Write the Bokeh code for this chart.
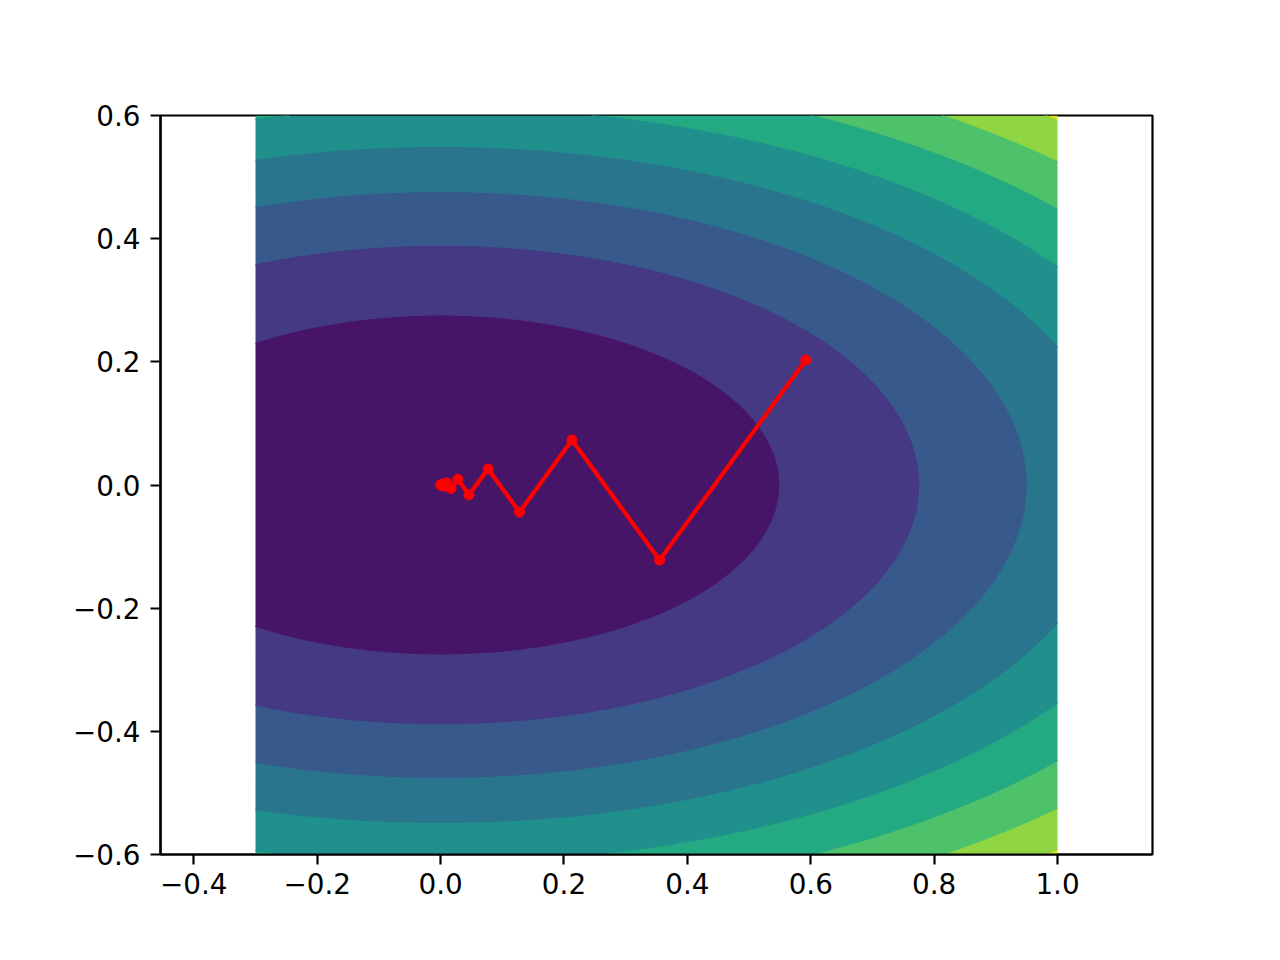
import numpy as np
from bokeh.plotting import figure
from bokeh.models import FixedTicker, CustomJSTickFormatter, Range1d
from bokeh.palettes import Viridis256
from bokeh.embed import file_html
from bokeh.resources import INLINE

# Objective surface f(x, y) = x^2 + 4 y^2 over the plotted domain
x_bounds = [-0.3, 1.0]
y_bounds = [-0.6, 0.6]
levels = [0.0, 0.3, 0.6, 0.9, 1.2, 1.5, 1.8, 2.1, 2.4, 2.7]

# Gradient-descent path
path_x = [0.592, 0.355, 0.213, 0.128, 0.077, 0.046, 0.028, 0.017, 0.010,
          0.006, 0.0036, 0.0022, 0.0013, 0.0008, 0.0005, 0.0003]
path_y = [0.203, -0.122, 0.073, -0.044, 0.026, -0.016, 0.0095, -0.0057,
          0.0034, -0.0021, 0.0012, -0.0007, 0.0004, -0.0003, 0.0002, -0.0001]

x_ticks = [-0.4, -0.2, 0.0, 0.2, 0.4, 0.6, 0.8, 1.0]
y_ticks = [-0.6, -0.4, -0.2, 0.0, 0.2, 0.4, 0.6]

gx = np.linspace(x_bounds[0], x_bounds[1], 400)
gy = np.linspace(y_bounds[0], y_bounds[1], 400)
XX, YY = np.meshgrid(gx, gy)
ZZ = XX ** 2 + 4.0 * YY ** 2

vmin, vmax = levels[0], levels[-1]
fills = []
for a, b in zip(levels[:-1], levels[1:]):
    t = ((a + b) / 2 - vmin) / (vmax - vmin)
    fills.append(Viridis256[min(255, int(t * 256))])
# colour each level line like the band inside it, to hide anti-alias seams
seam_colors = [fills[0]] + fills

p = figure(frame_width=992, frame_height=739,
           min_border_left=160, min_border_right=112,
           min_border_top=115, min_border_bottom=90,
           x_range=Range1d(-0.454, 1.154), y_range=Range1d(-0.6, 0.6),
           output_backend="svg", toolbar_location=None,
           background_fill_color="white", border_fill_color="white")
p.grid.visible = False

p.contour(gx, gy, ZZ, levels, fill_color=fills,
          line_color=seam_colors, line_width=1.5)

p.line(path_x, path_y, line_color="red", line_width=4.2)
p.scatter(path_x, path_y, size=10, fill_color="red", line_color="red")

fmt = CustomJSTickFormatter(code="""
    if (Math.abs(tick) < 1e-9) { tick = 0; }
    return tick.toFixed(1).replace('-', '\\u2212');
""")

p.xaxis.ticker = FixedTicker(ticks=x_ticks)
p.yaxis.ticker = FixedTicker(ticks=y_ticks)
for ax in (p.xaxis[0], p.yaxis[0]):
    ax.formatter = fmt
    ax.major_label_text_font = "DejaVu Sans"
    ax.major_label_text_font_size = "27.8px"
    ax.major_label_text_color = "black"
    ax.major_tick_out = 10
    ax.major_tick_in = 0
    ax.major_tick_line_width = 2.2
    ax.major_tick_line_color = "black"
    ax.minor_tick_line_color = None
    ax.axis_line_width = 2.2
    ax.axis_line_color = "black"
p.xaxis.major_label_standoff = 8
p.yaxis.major_label_standoff = 10

p.outline_line_color = "black"
p.outline_line_width = 2.2
p.outline_line_alpha = 1.0

open("out.html", "w").write(file_html(p, INLINE))
